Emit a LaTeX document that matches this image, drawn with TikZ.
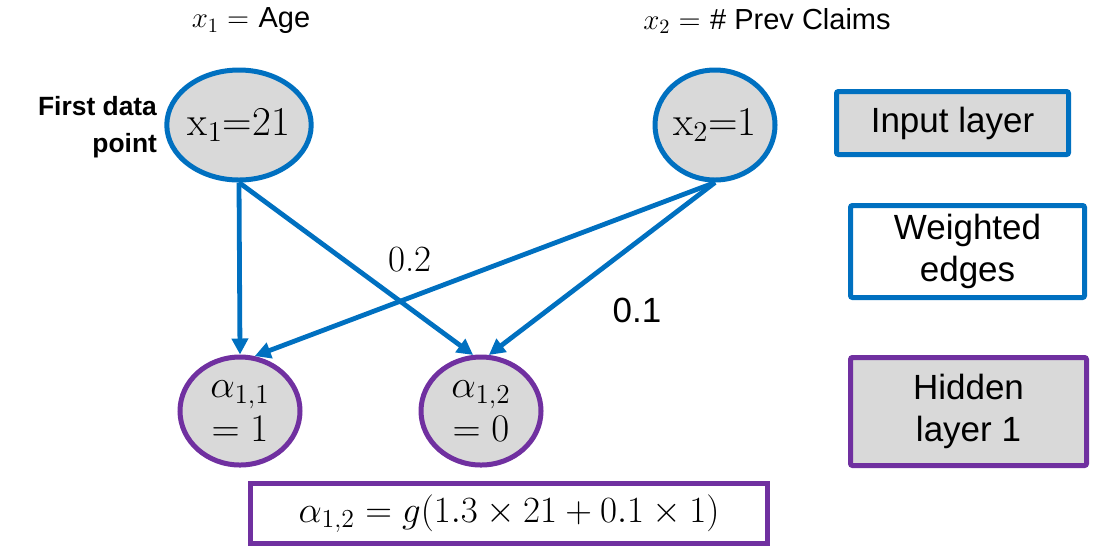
\documentclass[tikz,border=0pt]{standalone}
\usepackage{fix-cm}
\usepackage{amsmath}
\usepackage{fontspec}
\setsansfont{Liberation Sans}
\usetikzlibrary{arrows.meta,shapes.geometric}
\definecolor{nnblue}{RGB}{0,112,192}
\definecolor{nnpurple}{RGB}{112,48,160}
\definecolor{nngray}{RGB}{217,217,217}
\tikzset{
  inode/.style={ellipse,draw=nnblue,fill=nngray,line width=2.5pt,inner sep=0pt,
    minimum width=60pt,minimum height=55pt,font=\fontsize{20.5}{22}\selectfont},
  hnode/.style={ellipse,draw=nnpurple,fill=nngray,line width=2.5pt,inner sep=0pt,
    minimum width=60pt,minimum height=54pt,align=center,font=\fontsize{19.5}{22}\selectfont},
  legbox/.style={rectangle,rounded corners=1pt,line width=2.5pt,inner sep=0pt,align=center,
    font=\sffamily\fontsize{17.5}{21}\selectfont},
  toplabel/.style={font=\fontsize{14.5}{17}\selectfont},
  wedge/.style={nnblue,line width=2.4pt,-{Triangle[length=8pt,width=8pt]}},
}
\begin{document}
\begin{tikzpicture}[x=0.5pt,y=-0.5pt]
	\useasboundingbox (0,0) rectangle (1095,548);
	% input layer
	\node[inode] (x1) at (239,125) {x$_{\text{1}}$=21};
	\node[inode] (x2) at (715,125) {x$_{\text{2}}$=1};
	\node[toplabel] (age) at (251,21) {$x_1 =$ \textsf{Age}};
	\node[toplabel] (claims) at (767,21) {$x_2 =$ \textsf{\# Prev Claims}};
	\node[anchor=east,align=right,font=\sffamily\bfseries\fontsize{13.2}{18.5}\selectfont] (first) at (164,127) {First data\\point};
	% hidden layer
	\node[hnode] (a11) at (240,411) {$\alpha_{1,1}$\\$=1$};
	\node[hnode] (a12) at (481,411) {$\alpha_{1,2}$\\$=0$};
	% weighted edges
	\draw[wedge] (x1.south) -- (a11.north);
	\draw[wedge] (x1.south) -- (a12.98);
	\draw[wedge] (x2.south) -- (a11.75);
	\draw[wedge] (x2.south) -- (a12.82);
	\node[font=\fontsize{18.5}{22}\selectfont] (w2) at (410,260) {0.2};
	\node[font=\sffamily\fontsize{17.5}{21}\selectfont] (w1) at (637,310) {0.1};
	% legend
	\node[legbox,draw=nnblue,fill=nngray,minimum width=116pt,minimum height=31.5pt] (lin) at (952.5,123) {Input layer};
	\node[legbox,draw=nnblue,fill=white,minimum width=117pt,minimum height=46pt] (lw) at (967.5,251.5) {Weighted\\edges};
	\node[legbox,draw=nnpurple,fill=nngray,minimum width=118pt,minimum height=54pt] (lh) at (968.5,411.5) {Hidden\\layer 1};
	% formula
	\node[rectangle,draw=nnpurple,line width=2.5pt,minimum width=258.5pt,minimum height=30pt,
	  font=\fontsize{18.5}{20}\selectfont] (eq) at (509,513.5) {$\alpha_{1,2} = g(1.3\times 21 + 0.1\times 1)$};
\end{tikzpicture}
\end{document}
